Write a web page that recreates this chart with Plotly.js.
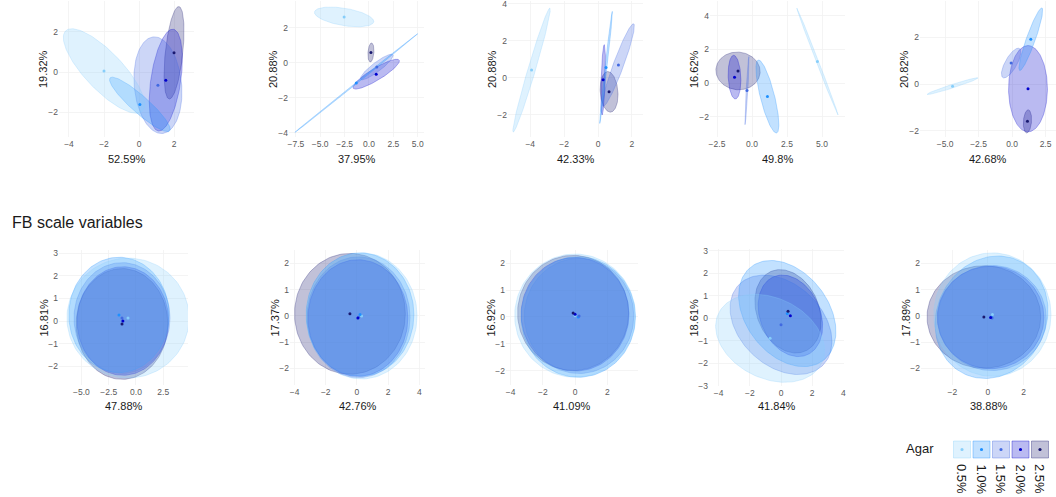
<!DOCTYPE html>
<html>
<head>
<meta charset="utf-8">
<script src="https://cdn.plot.ly/plotly-3.0.1.min.js"></script>
<style>
  html, body { margin: 0; padding: 0; background: #ffffff; }
  #chart { width: 1056px; height: 497px; }
</style>
</head>
<body>
<div id="chart"></div>
<script>
// Agar concentration groups and their colours
const agarLevels = ['0.5%', '1.0%', '1.5%', '2.0%', '2.5%'];
const agarColours = ['#87CEFA', '#1E90FF', '#4169E1', '#0000CD', '#191970'];

// Explained variance of PC1 (x) and PC2 (y) for each panel, top row then FB scale row
const pc1Labels = ['52.59%', '37.95%', '42.33%', '49.8%', '42.68%',
                   '47.88%', '42.76%', '41.09%', '41.84%', '38.88%'];
const pc2Labels = ['19.32%', '20.88%', '20.88%', '16.62%', '20.82%',
                   '16.81%', '17.37%', '16.92%', '18.61%', '17.89%'];

// Group ellipses, one row per agar level:
// [centre PC1, centre PC2, semi-major, semi-minor, rotation in degrees]
const topPanel1 = [
  [-2.00,  0.05, 2.96, 1.00, 138.8],
  [ 0.05, -1.60, 2.15, 0.45, 142.8],
  [ 1.08, -0.65, 2.40, 1.35,  97.0],
  [ 1.53, -0.40, 2.55, 0.85,  80.0],
  [ 2.00,  0.95, 2.30, 0.50,  83.0]
];
const topPanel2 = [
  [-2.55,  2.63, 3.05, 0.50,  -5.0],
  [-1.30, -1.15, 6.90, 0.05,  24.1],
  [ 0.80, -0.23, 1.80, 0.30,  22.0],
  [ 0.74, -0.64, 2.50, 0.38,  18.0],
  [ 0.20,  0.60, 0.55, 0.30,  80.0]
];
const topPanel3 = [
  [-3.92,  0.43, 3.52, 0.22,  72.1],
  [ 0.47,  0.57, 3.05, 0.06,  83.0],
  [ 1.20,  0.70, 2.40, 0.30,  68.0],
  [ 0.30, -0.10, 1.90, 0.12,  88.0],
  [ 0.65, -0.75, 1.10, 0.52,  95.0]
];
const topPanel4 = [
  [ 4.67,  1.28, 3.50, 0.08, 114.8],
  [ 1.10, -0.80, 2.27, 0.50, 107.0],
  [-0.36, -0.45, 2.03, 0.06,  86.0],
  [-1.25,  0.35, 1.30, 0.45,  93.0],
  [-1.00,  0.72, 1.58, 1.12,  -3.0]
];
const topPanel5 = [
  [-4.44, -0.09, 1.93, 0.08,  10.4],
  [ 1.40,  1.92, 1.58, 0.30,  57.4],
  [-0.07,  0.90, 0.90, 0.35,  40.0],
  [ 1.19, -0.20, 1.85, 1.45,  90.0],
  [ 1.15, -1.60, 0.50, 0.30,  80.0]
];
const fbPanel1 = [
  [-0.73,  0.13, 5.60, 2.65,   0.0],
  [-1.56,  0.27, 4.60, 2.55,   0.0],
  [-1.28,  0.13, 4.40, 2.45,   0.0],
  [-1.20,  0.00, 4.20, 2.40,   0.0],
  [-1.28, -0.13, 4.20, 2.45,   0.0]
];
const fbPanel2 = [
  [ 0.30,  0.00, 3.55, 2.40,   0.0],
  [ 0.20,  0.05, 3.45, 2.35,   0.0],
  [ 0.10, -0.05, 3.30, 2.30,   0.0],
  [ 0.06, -0.08, 3.20, 2.22,   0.0],
  [-0.45,  0.08, 3.55, 2.30,   0.0]
];
const fbPanel3 = [
  [ 0.00,  0.05, 3.75, 2.30,   0.0],
  [ 0.20,  0.00, 3.55, 2.25,   0.0],
  [ 0.25,  0.04, 3.40, 2.15,   0.0],
  [ 0.00,  0.10, 3.35, 2.12,   0.0],
  [-0.12,  0.15, 3.45, 2.15,   0.0]
];
const fbPanel4 = [
  [-0.70, -0.90, 3.55, 1.85, -12.0],
  [ 0.40,  0.20, 3.30, 2.10, -25.0],
  [ 0.00, -0.30, 3.40, 2.00, -20.0],
  [ 0.60,  0.10, 2.20, 1.65, -31.0],
  [ 0.45,  0.30, 2.25, 1.70, -30.0]
];
const fbPanel5 = [
  [ 0.25,  0.05, 3.30, 2.35,   0.0],
  [ 0.20, -0.05, 3.20, 2.30,  10.0],
  [ 0.23, -0.08, 3.05, 2.00,   0.0],
  [ 0.15, -0.06, 3.00, 1.95,   0.0],
  [-0.23, -0.04, 3.20, 1.95,   0.0]
];
const panelEllipses = [topPanel1, topPanel2, topPanel3, topPanel4, topPanel5,
                       fbPanel1, fbPanel2, fbPanel3, fbPanel4, fbPanel5];

// ---- layout geometry (pixels) ----
const W = 1056, H = 497;
const FONT = 'Liberation Sans, Arial, Helvetica, sans-serif';
const panelBoxes = [               // [left, top, right, bottom]
  [59, 1, 194, 137], [289, 1, 424, 137], [508, 1, 643, 137], [710, 1, 845, 137], [920, 1, 1056, 137],
  [59, 250, 188, 385], [290, 250, 425, 385], [506, 250, 638, 385], [709, 249, 844, 386], [921, 250, 1056, 385]
];
const xRanges = [[-4.57, 3.14], [-8.2, 5.64], [-5.31, 2.65], [-3.0, 6.64], [-6.87, 3.28],
                 [-7.06, 4.77], [-4.29, 4.36], [-4.29, 3.91], [-4.62, 4.04], [-3.77, 3.83]];
const yRanges = [[-3.21, 3.51], [-4.23, 3.54], [-3.19, 4.16], [-3.21, 4.88], [-2.27, 3.56],
                 [-2.83, 3.14], [-2.63, 2.51], [-2.54, 2.5], [-3.02, 3.07], [-2.63, 2.51]];
const xSteps = [2, 2.5, 2, 2.5, 2.5, 2.5, 2, 2, 2, 2];
const ySteps = [2, 2, 2, 2, 2, 1, 1, 1, 1, 1];

const FILL_ALPHA = 0.27, LINE_ALPHA = 0.4;

function rgba(hex, a) {
  const n = parseInt(hex.slice(1), 16);
  return `rgba(${(n >> 16) & 255},${(n >> 8) & 255},${n & 255},${a})`;
}

// Outline of a rotated ellipse in data units
function ellipsePath(cx, cy, a, b, deg) {
  const th = deg * Math.PI / 180, xs = [], ys = [];
  for (let k = 0; k <= 144; k++) {
    const t = 2 * Math.PI * k / 144;
    xs.push(cx + a * Math.cos(t) * Math.cos(th) - b * Math.sin(t) * Math.sin(th));
    ys.push(cy + a * Math.cos(t) * Math.sin(th) + b * Math.sin(t) * Math.cos(th));
  }
  return { xs, ys };
}

const traces = [];
const layout = {
  width: W, height: H,
  margin: { l: 0, r: 0, t: 0, b: 0 },
  paper_bgcolor: '#ffffff', plot_bgcolor: 'rgba(0,0,0,0)',
  showlegend: false,
  font: { family: FONT },
  annotations: [], shapes: []
};

panelEllipses.forEach((rows, i) => {
  const s = i === 0 ? '' : String(i + 1);
  const [L, T, R, B] = panelBoxes[i];

  // highest concentration drawn first, lightest on top
  for (let g = rows.length - 1; g >= 0; g--) {
    const r = rows[g];
    const p = ellipsePath(r[0], r[1], r[2], r[3], r[4]);
    traces.push({
      type: 'scatter', mode: 'lines', x: p.xs, y: p.ys,
      fill: 'toself', fillcolor: rgba(agarColours[g], FILL_ALPHA),
      line: { color: rgba(agarColours[g], LINE_ALPHA), width: 0.7 },
      xaxis: 'x' + s, yaxis: 'y' + s, hoverinfo: 'skip', name: agarLevels[g]
    });
  }
  traces.push({
    type: 'scatter', mode: 'markers',
    x: rows.map(r => r[0]), y: rows.map(r => r[1]),
    marker: { size: 3, color: agarColours },
    xaxis: 'x' + s, yaxis: 'y' + s, hoverinfo: 'skip'
  });

  const common = {
    showgrid: true, gridcolor: '#f1f1f1', gridwidth: 0.8,
    zeroline: false, showline: false, ticks: '', tick0: 0,
    tickfont: { size: 8.5, color: '#5a5a5a', family: FONT },
    ticklabeloverflow: 'allow',
    fixedrange: true, automargin: false
  };
  layout['xaxis' + s] = Object.assign({}, common, {
    domain: [L / W, R / W], range: xRanges[i], dtick: xSteps[i],
    tickformat: xSteps[i] === 2.5 ? '.1f' : 'd', anchor: 'y' + s
  });
  layout['yaxis' + s] = Object.assign({}, common, {
    domain: [1 - B / H, 1 - T / H], range: yRanges[i], dtick: ySteps[i],
    tickformat: 'd', anchor: 'x' + s
  });

  // axis titles
  const titleFont = { size: 11, color: '#1a1a1a', family: FONT };
  layout.annotations.push({
    xref: 'paper', yref: 'paper', x: (L + R) / 2 / W, y: 1 - (i < 5 ? 159 : 406) / H,
    text: pc1Labels[i], showarrow: false, xanchor: 'center', yanchor: 'middle', font: titleFont
  });
  layout.annotations.push({
    xref: 'paper', yref: 'paper', x: (L - 16) / W, y: 1 - (T + B) / 2 / H,
    text: pc2Labels[i], showarrow: false, textangle: -90,
    xanchor: 'center', yanchor: 'middle', font: titleFont
  });
});

// Section heading for the lower row
layout.annotations.push({
  xref: 'paper', yref: 'paper', x: 10 / W, y: 1 - 223 / H,
  text: 'FB scale variables', showarrow: false, xanchor: 'left', yanchor: 'middle',
  font: { size: 16, color: '#1a1a1a', family: FONT }
});

// Legend: Agar keys
layout.annotations.push({
  xref: 'paper', yref: 'paper', x: 920 / W, y: 1 - 448 / H,
  text: 'Agar', showarrow: false, xanchor: 'center', yanchor: 'middle',
  font: { size: 13, color: '#1a1a1a', family: FONT }
});
const keyX0 = 962, keyStep = 19.5, keyY = 449.5, keyHalf = 8.5, dotR = 1.6;
agarLevels.forEach((lvl, g) => {
  const cx = keyX0 + g * keyStep;
  layout.shapes.push({
    type: 'rect', xref: 'paper', yref: 'paper',
    x0: (cx - keyHalf) / W, x1: (cx + keyHalf) / W,
    y0: 1 - (keyY + keyHalf) / H, y1: 1 - (keyY - keyHalf) / H,
    fillcolor: rgba(agarColours[g], FILL_ALPHA),
    line: { color: rgba(agarColours[g], 0.45), width: 0.8 }
  });
  layout.shapes.push({
    type: 'circle', xref: 'paper', yref: 'paper',
    x0: (cx - dotR) / W, x1: (cx + dotR) / W,
    y0: 1 - (keyY + dotR) / H, y1: 1 - (keyY - dotR) / H,
    fillcolor: agarColours[g], line: { width: 0 }
  });
  layout.annotations.push({
    xref: 'paper', yref: 'paper', x: cx / W, y: 1 - 479 / H,
    text: lvl, showarrow: false, textangle: 90, xanchor: 'center', yanchor: 'middle',
    font: { size: 13, color: '#1a1a1a', family: FONT }
  });
});

Plotly.newPlot('chart', traces, layout, { staticPlot: true, displayModeBar: false });
</script>
</body>
</html>
